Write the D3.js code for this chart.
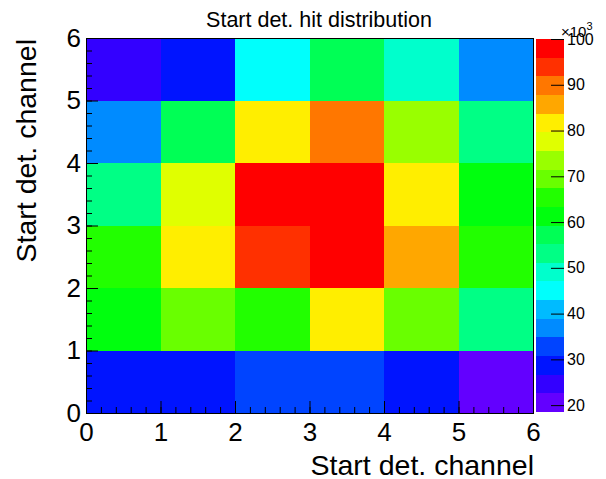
<!DOCTYPE html>
<html><head><meta charset="utf-8">
<script src="https://cdn.jsdelivr.net/npm/d3@7"></script>
<style>body{margin:0;background:#fff;} text{font-family:"Liberation Sans",Arial,sans-serif;fill:#000;}</style>
</head><body><svg id="c" width="606" height="479"></svg>
<script>
// Bin edges and tick labels
const binsX = [0, 1, 2, 3, 4, 5];
const binsY = [0, 1, 2, 3, 4, 5];
const axisTicks = [0, 1, 2, 3, 4, 5, 6];
const paletteTicks = [20, 30, 40, 50, 60, 70, 80, 90, 100];
// Hit counts, one array per y bin (x bins 0..5)
const row0 = [28900, 28200, 32600, 33100, 28500, 18500];
const row1 = [61200, 69800, 65100, 81400, 69200, 53400];
const row2 = [65600, 81900, 93700, 98600, 85500, 65000];
const row3 = [53000, 77300, 97400, 100000, 81700, 61600];
const row4 = [36700, 57400, 81200, 89600, 73600, 52700];
const row5 = [24400, 29000, 45100, 57000, 49300, 37100];
const rows = [row0, row1, row2, row3, row4, row5];
const title = "Start det. hit distribution";
const xTitle = "Start det. channel";
const yTitle = "Start det. channel";

const svg = d3.select("#c");
const L = 86, R = 533, T = 38, B = 413;
const x = d3.scaleLinear().domain([0, 6]).range([L, R]);
const y = d3.scaleLinear().domain([0, 6]).range([B, T]);

const cells = [];
rows.forEach((r, j) => r.forEach((v, i) => cells.push({ix: binsX[i], iy: binsY[j], v})));
const zmin = d3.min(cells, d => d.v), zmax = d3.max(cells, d => d.v);
const ncont = 20;
const dz = (zmax - zmin) / ncont;
// ROOT "pretty" palette: 50 hues, 20 contours
const pal = d3.range(50).map(i => d3.hsl(280 - (i + 1) * 5.6, 1, 0.5).formatHex());
const contColor = k => pal[Math.floor((k + 0.99) * 50 / ncont)];
const kOf = v => Math.max(0, Math.min(ncont - 1, Math.floor((v - zmin) / dz)));

svg.append("g").selectAll("rect").data(cells).join("rect")
  .attr("x", d => x(d.ix)).attr("y", d => y(d.iy + 1))
  .attr("width", d => x(d.ix + 1) - x(d.ix)).attr("height", d => y(d.iy) - y(d.iy + 1))
  .attr("fill", d => contColor(kOf(d.v))).attr("shape-rendering", "crispEdges");

// axes
const fmt = d3.format("d");
const gx = svg.append("g").attr("transform", `translate(0,${B})`)
  .call(d3.axisBottom(x).tickValues(axisTicks).tickSize(-12).tickPadding(10).tickFormat(fmt));
const gxm = svg.append("g").attr("transform", `translate(0,${B})`)
  .call(d3.axisBottom(x).tickValues(d3.range(0, 30).map(i => i * 0.2)).tickSize(-6).tickFormat(""));
const gy = svg.append("g").attr("transform", `translate(${L},0)`)
  .call(d3.axisLeft(y).tickValues(axisTicks).tickSize(-12).tickPadding(5).tickFormat(fmt));
const gym = svg.append("g").attr("transform", `translate(${L},0)`)
  .call(d3.axisLeft(y).tickValues(d3.range(0, 30).map(i => i * 0.2)).tickSize(-6).tickFormat(""));
[gx, gxm, gy, gym].forEach(g => { g.select(".domain").remove(); g.selectAll("line").attr("stroke", "#000"); });
gx.selectAll("text").attr("font-size", 26);
gy.selectAll("text").attr("font-size", 26);

svg.append("rect").attr("x", L).attr("y", T).attr("width", R - L).attr("height", B - T)
  .attr("fill", "none").attr("stroke", "#000").attr("stroke-width", 1).attr("shape-rendering", "crispEdges");

// palette
const PL = 536, PR = 564, PT = 39, PB = 412;
const z = d3.scaleLinear().domain([zmin / 1000, zmax / 1000]).range([PB, PT]);
svg.append("g").selectAll("rect").data(d3.range(ncont)).join("rect")
  .attr("x", PL).attr("width", PR - PL)
  .attr("y", k => z((zmin + (k + 1) * dz) / 1000)).attr("height", k => z((zmin + k * dz) / 1000) - z((zmin + (k + 1) * dz) / 1000))
  .attr("fill", k => contColor(k)).attr("shape-rendering", "crispEdges");
const gz = svg.append("g").attr("transform", `translate(${PR},0)`)
  .call(d3.axisRight(z).tickValues(paletteTicks).tickSize(-13).tickPadding(3).tickFormat(fmt));
gz.select(".domain").remove();
gz.selectAll("line").attr("stroke", "#000");
gz.selectAll("text").attr("font-size", 16);
const ex = svg.append("text").attr("x", 561).attr("y", 37).attr("font-size", 15);
ex.append("tspan").text("×10");
ex.append("tspan").attr("font-size", 11).attr("dy", -7).text("3");

// titles
svg.append("text").attr("x", 319).attr("y", 27).attr("text-anchor", "middle").attr("font-size", 21.5).text(title);
svg.append("text").attr("x", 534).attr("y", 475).attr("text-anchor", "end").attr("font-size", 28.5).text(xTitle);
svg.append("text").attr("transform", `translate(36,39) rotate(-90)`).attr("text-anchor", "end").attr("font-size", 28.5).text(yTitle);
</script></body></html>
